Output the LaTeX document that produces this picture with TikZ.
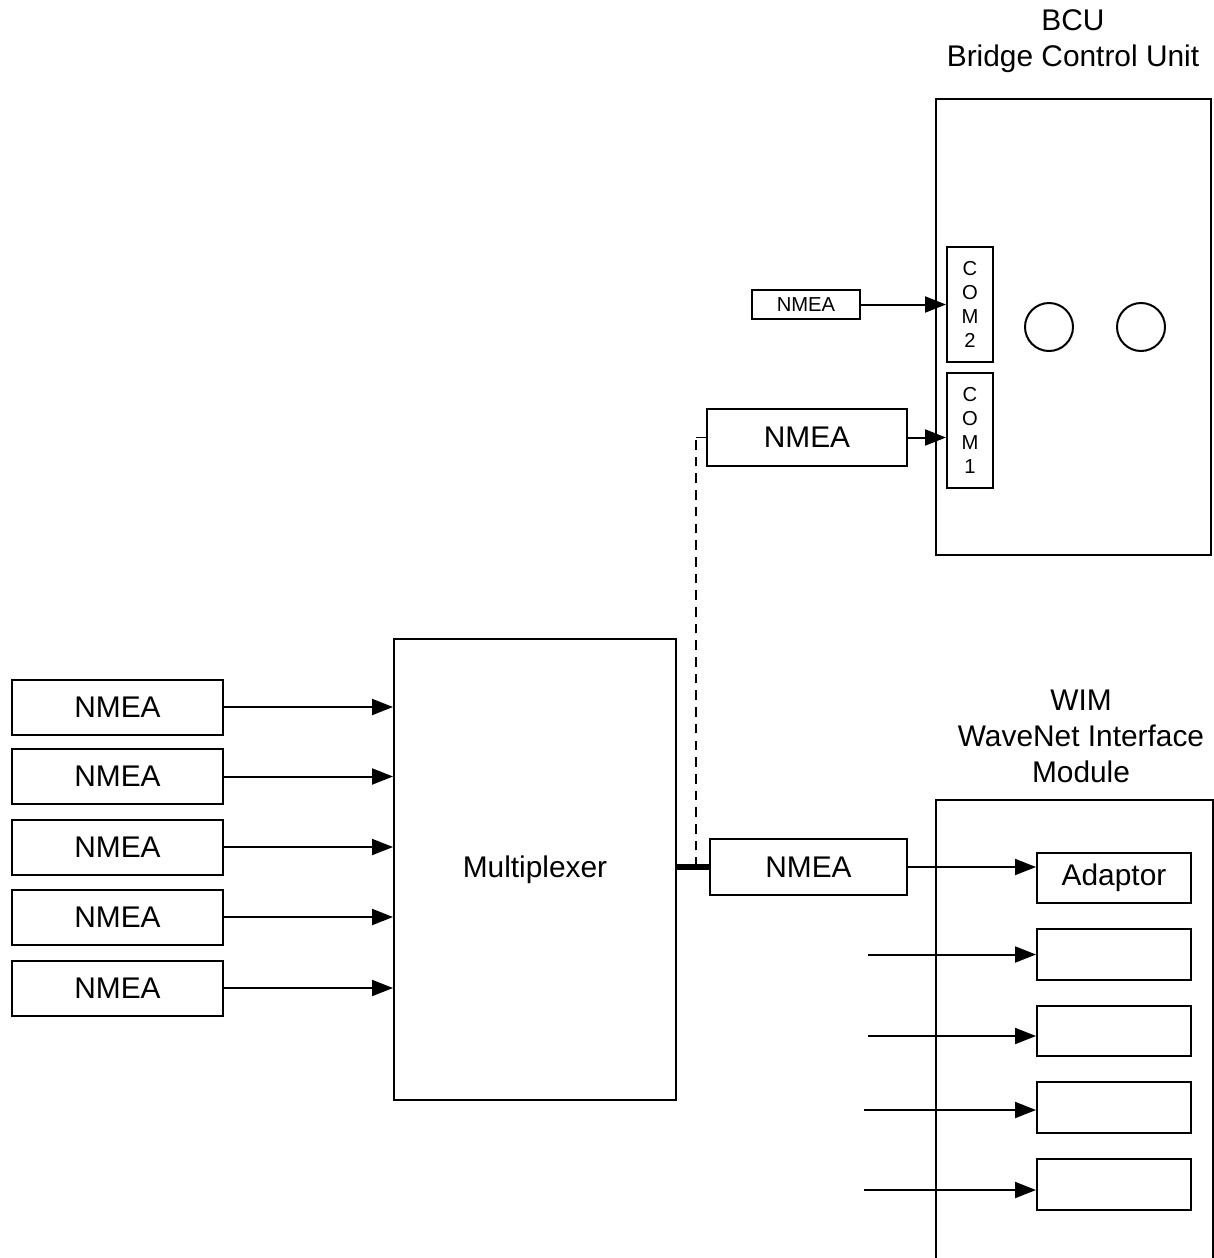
\documentclass[tikz,border=0pt]{standalone}
\usepackage{fontspec}
\setmainfont{Liberation Sans}
\usetikzlibrary{arrows.meta}

\begin{document}
\begin{tikzpicture}[x=0.02cm, y=-0.02cm, line width=0.4mm, >={Triangle[length=0.42cm,width=0.32cm]}]
    \tikzset{box/.style={draw, line width=0.4mm, inner sep=0, font=\fontsize{17}{20}\selectfont}}
    \tikzset{small/.style={draw, line width=0.4mm, inner sep=0, align=center, font=\fontsize{11.5}{13.6}\selectfont}}
    \tikzset{title/.style={align=center, font=\fontsize{17}{20.5}\selectfont}}

    \useasboundingbox (0,0) rectangle (1214,1258);

    \node[box, minimum width=4.22cm, minimum height=1.1cm] (N1) at (117.5,707) {NMEA};
    \node[box, minimum width=4.22cm, minimum height=1.1cm] (N2) at (117.5,776.5) {NMEA};
    \node[box, minimum width=4.22cm, minimum height=1.1cm] (N3) at (117.5,847) {NMEA};
    \node[box, minimum width=4.22cm, minimum height=1.1cm] (N4) at (117.5,917) {NMEA};
    \node[box, minimum width=4.22cm, minimum height=1.1cm] (N5) at (117.5,988) {NMEA};

    \node[box, minimum width=5.64cm, minimum height=9.22cm] (Mux) at (535,869.5) {Multiplexer};

    \draw[->] (N1.east) -- (N1.east -| Mux.west);
    \draw[->] (N2.east) -- (N2.east -| Mux.west);
    \draw[->] (N3.east) -- (N3.east -| Mux.west);
    \draw[->] (N4.east) -- (N4.east -| Mux.west);
    \draw[->] (N5.east) -- (N5.east -| Mux.west);

    % bridge control unit
    \node[title] (BCUt) at (1073,41) {BCU\\Bridge Control Unit};
    \node[draw, line width=0.4mm, minimum width=5.5cm, minimum height=9.12cm] (BCU) at (1073.5,327) {};
    \node[small, minimum width=0.92cm, minimum height=2.3cm] (C2) at (970,304.5) {C\\O\\M\\2};
    \node[small, minimum width=0.92cm, minimum height=2.3cm] (C1) at (970,430.5) {C\\O\\M\\1};
    \node[draw, circle, line width=0.4mm, minimum size=0.96cm] (K1) at (1049,327) {};
    \node[draw, circle, line width=0.4mm, minimum size=0.96cm] (K2) at (1141,327) {};

    \node[small, minimum width=2.16cm, minimum height=0.58cm] (S0) at (806,304.5) {NMEA};
    \node[box, minimum width=4.0cm, minimum height=1.14cm] (M1) at (807,437.5) {NMEA};

    \draw[->] (S0.east) -- (S0.east -| C2.west);
    \draw[->] (M1.east) -- (M1.east -| C1.west);

    % wavenet interface module
    \node[title] (WIMt) at (1081,736) {WIM\\WaveNet Interface\\Module};
    \coordinate (W1) at (936,1258);
    \coordinate (W2) at (1213,1258);
    \draw (W1) |- (1213,800) -- (W2);

    \node[box, minimum width=3.08cm, minimum height=1.0cm] (A1) at (1114,878) {Adaptor};
    \node[box, minimum width=3.08cm, minimum height=1.02cm] (A2) at (1114,954.5) {};
    \node[box, minimum width=3.08cm, minimum height=1.0cm] (A3) at (1114,1031) {};
    \node[box, minimum width=3.08cm, minimum height=1.02cm] (A4) at (1114,1107.5) {};
    \node[box, minimum width=3.08cm, minimum height=1.02cm] (A5) at (1114,1184.5) {};

    \node[box, minimum width=3.94cm, minimum height=1.12cm] (M2) at (808.5,867) {NMEA};

    \draw[->] (M2.east) -- (M2.east -| A1.west);

    \coordinate (I2) at (868,954.5);
    \coordinate (I3) at (868,1036);
    \coordinate (I4) at (864,1110);
    \coordinate (I5) at (864,1190);
    \draw[->] (I2) -- (I2 -| A2.west);
    \draw[->] (I3) -- (I3 -| A3.west);
    \draw[->] (I4) -- (I4 -| A4.west);
    \draw[->] (I5) -- (I5 -| A5.west);

    % multiplexer output
    \coordinate (T) at (696,867);
    \coordinate (U) at (696,437.5);
    \draw[line width=1.2mm] (M2.west -| Mux.east) -- (M2.west);
    \draw[line width=0.35mm, dash pattern=on 5.5pt off 4pt] (T) -- (U);
    \draw[line width=0.35mm] (U) -- (M1.west);
\end{tikzpicture}
\end{document}
